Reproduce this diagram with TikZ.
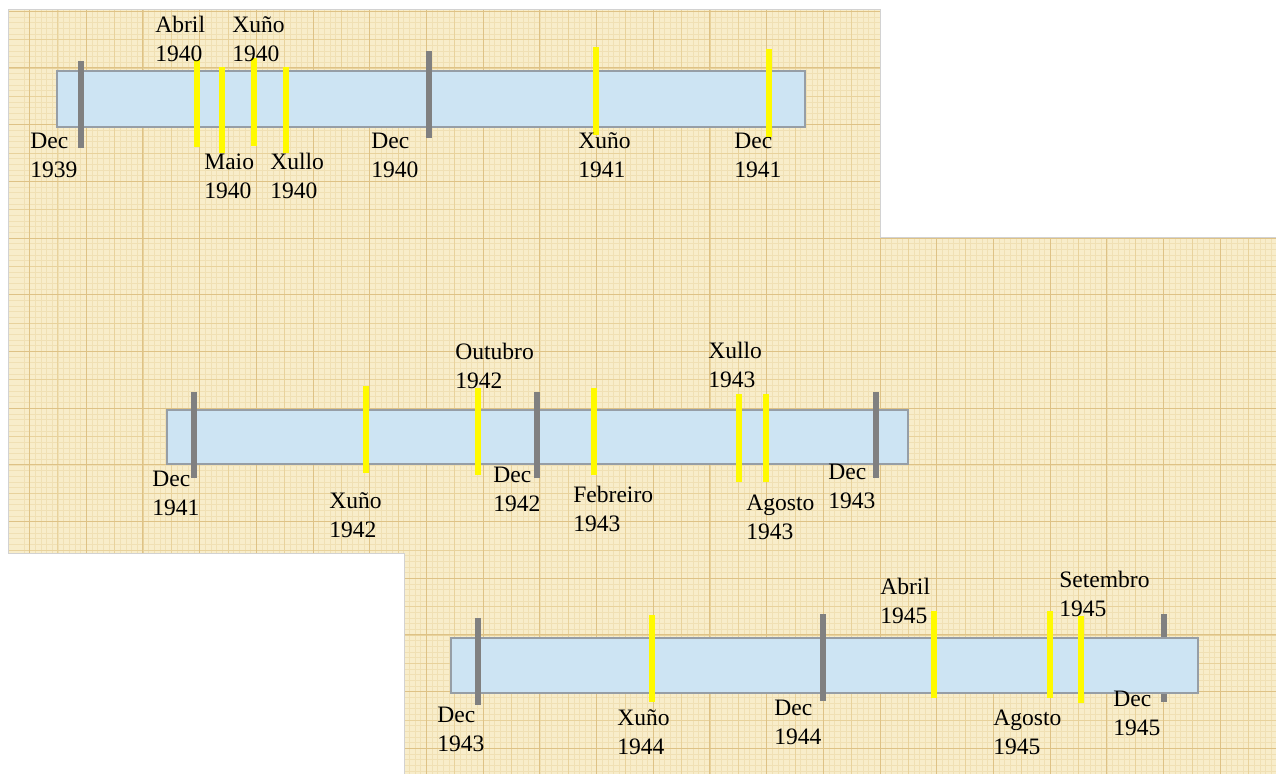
\documentclass[tikz,border=0pt]{standalone}
\usepackage{fontspec}
\setmainfont{Liberation Serif}
\usepackage{tikz}
\definecolor{paper}{RGB}{248,237,202}
\definecolor{gridfine}{RGB}{240,224,180}
\definecolor{gridmid}{RGB}{232,210,156}
\definecolor{gridmajor}{RGB}{222,194,134}
\definecolor{barblue}{RGB}{205,228,243}
\definecolor{barline}{RGB}{150,158,166}
\definecolor{tickgrey}{RGB}{128,128,128}
\definecolor{tickyellow}{RGB}{255,250,0}
\tikzset{
  timebar/.style = {
    fill=barblue,
    draw=barline,
    line width=0.6pt
  },
  tick_dec/.style = {
    draw=tickgrey,
    line width=3.8pt
  },
  tick_event/.style = {
    tick_dec,
    draw=tickyellow
  },
  grid_fine/.style = {draw=gridfine, line width=0.3pt},
  grid_mid/.style = {draw=gridmid, line width=0.4pt},
  grid_major/.style = {draw=gridmajor, line width=0.5pt},
  datelabel/.style = {
    anchor=west,
    align=left,
    inner sep=0pt,
    text=black,
    font=\fontsize{13.4}{16.5}\selectfont
  }
}

\begin{document}
\begin{tikzpicture}[x=0.02cm, y=-0.02cm] % 1 unit = 1 px of the page

\useasboundingbox (0,0) rectangle (1276,774);

% ===== Papel milimetrado (tres follas solapadas) =====
\fill[paper] (8,9) -- (880,9) -- (880,237) -- (1276,237) -- (1276,774)
  -- (404,774) -- (404,553) -- (8,553) -- cycle;
\begin{scope}
  \clip (8,9) -- (880,9) -- (880,237) -- (1276,237) -- (1276,774)
    -- (404,774) -- (404,553) -- (8,553) -- cycle;
  \foreach \i in {-1,...,224} \draw[grid_fine] ({29.5+\i*5.67},0) -- ({29.5+\i*5.67},774);
  \foreach \j in {-2,...,135} \draw[grid_fine] (0,{11.2+\j*5.67}) -- (1276,{11.2+\j*5.67});
  \foreach \i in {-1,...,45} \draw[grid_mid] ({29.5+\i*28.35},0) -- ({29.5+\i*28.35},774);
  \foreach \j in {-1,...,27} \draw[grid_mid] (0,{11.2+\j*28.35}) -- (1276,{11.2+\j*28.35});
  \foreach \i in {-1,...,22} \draw[grid_major] ({29.5+\i*56.7},0) -- ({29.5+\i*56.7},774);
  \foreach \j in {-1,...,14} \draw[grid_major] (0,{11.2+\j*56.7}) -- (1276,{11.2+\j*56.7});
\end{scope}
\draw[gray!35, line width=0.5pt] (1276,237) -- (880,237) -- (880,9) -- (8,9)
  -- (8,553) -- (404,553) -- (404,774);

% ===== Liña 1: 1939 -> 1941 =====
\draw[timebar] (57,71) rectangle (805,127);
\draw[tick_dec] (81,61) -- (81,148);
\draw[tick_event] (197,60) -- (197,147);
\draw[tick_event] (222,67) -- (222,153);
\draw[tick_event] (254,58) -- (254,146);
\draw[tick_event] (286,67) -- (286,153);
\draw[tick_dec] (429,51) -- (429,138);
\draw[tick_event] (596,47) -- (596,135);
\draw[tick_event] (769,49) -- (769,137);

\node (dec39) [datelabel] at (30,155) {Dec\\1939};
\node (abr40) [datelabel] at (155,39) {Abril\\1940};
\node (xun40) [datelabel] at (232,39) {Xuño\\1940};
\node (mai40) [datelabel] at (204,176) {Maio\\1940};
\node (xul40) [datelabel] at (270,176) {Xullo\\1940};
\node (dec40) [datelabel] at (371,155) {Dec\\1940};
\node (xun41) [datelabel] at (578,155) {Xuño\\1941};
\node (dec41) [datelabel] at (734,155) {Dec\\1941};

% ===== Liña 2: 1941 -> 1943 =====
\draw[timebar] (167,410) rectangle (908,464);
\draw[tick_dec] (194,392) -- (194,478);
\draw[tick_event] (366,386) -- (366,473);
\draw[tick_event] (478,388) -- (478,475);
\draw[tick_dec] (537,392) -- (537,478);
\draw[tick_event] (594,388) -- (594,475);
\draw[tick_event] (739,394) -- (739,482);
\draw[tick_event] (766,394) -- (766,482);
\draw[tick_dec] (876,392) -- (876,478);

\node (dec41b) [datelabel] at (152,493) {Dec\\1941};
\node (xun42) [datelabel] at (329,515) {Xuño\\1942};
\node (out42) [datelabel] at (455,366) {Outubro\\1942};
\node (dec42) [datelabel] at (493,489) {Dec\\1942};
\node (feb43) [datelabel] at (573,509) {Febreiro\\1943};
\node (xul43) [datelabel] at (708,365) {Xullo\\1943};
\node (ago43) [datelabel] at (746,517) {Agosto\\1943};
\node (dec43) [datelabel] at (828,486) {Dec\\1943};

% ===== Liña 3: 1943 -> 1945 =====
\draw[tick_dec] (1164,614) -- (1164,702); % queda detrás da barra
\draw[timebar] (451,638) rectangle (1198,693);
\draw[tick_dec] (478,618) -- (478,705);
\draw[tick_event] (652,615) -- (652,702);
\draw[tick_dec] (823,614) -- (823,701);
\draw[tick_event] (934,611) -- (934,698);
\draw[tick_event] (1050,611) -- (1050,698);
\draw[tick_event] (1081,616) -- (1081,703);

\node (dec43b) [datelabel] at (437,729) {Dec\\1943};
\node (xun44) [datelabel] at (617,732) {Xuño\\1944};
\node (dec44) [datelabel] at (774,722) {Dec\\1944};
\node (abr45) [datelabel] at (880,601) {Abril\\1945};
\node (ago45) [datelabel] at (993,732) {Agosto\\1945};
\node (set45) [datelabel] at (1059,594) {Setembro\\1945};
\node (dec45) [datelabel] at (1113,713) {Dec\\1945};

\end{tikzpicture}
\end{document}
